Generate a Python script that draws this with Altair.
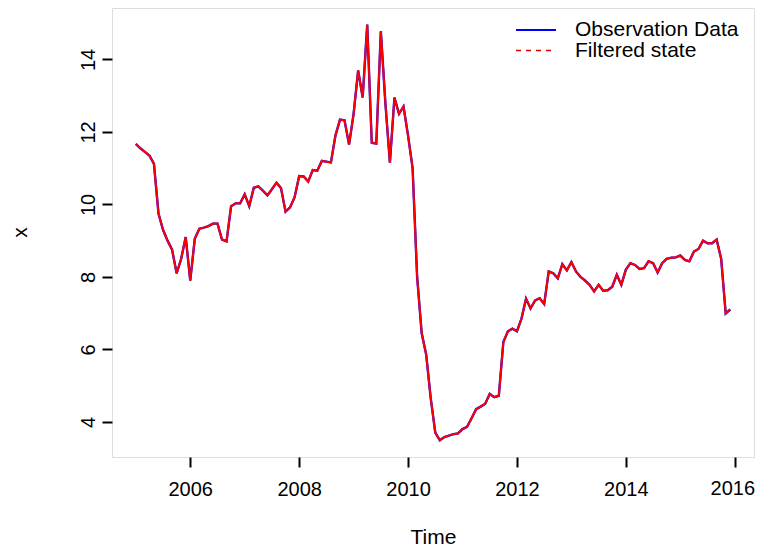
import altair as alt
import pandas as pd

start_year = 2005
observation = [
    11.67, 11.55, 11.45, 11.35, 11.12, 9.75, 9.30, 9.00, 8.75, 8.10, 8.50, 9.10,
    7.90, 9.05, 9.33, 9.36, 9.40, 9.47, 9.47, 9.03, 8.98, 9.95, 10.03, 10.03,
    10.28, 9.95, 10.46, 10.50, 10.38, 10.25, 10.42, 10.60, 10.45, 9.80, 9.92, 10.20,
    10.78, 10.77, 10.63, 10.95, 10.93, 11.20, 11.18, 11.16, 11.90, 12.34, 12.32, 11.65,
    12.50, 13.70, 12.95, 14.96, 11.70, 11.68, 14.78, 12.80, 11.15, 12.95, 12.50, 12.70,
    11.90, 11.00, 8.00, 6.45, 5.85, 4.65, 3.70, 3.49, 3.58, 3.62, 3.66, 3.68,
    3.80, 3.86, 4.10, 4.35, 4.42, 4.50, 4.77, 4.68, 4.72, 6.20, 6.50, 6.57,
    6.50, 6.85, 7.40, 7.13, 7.35, 7.41, 7.25, 8.15, 8.10, 7.96, 8.35, 8.18,
    8.41, 8.15, 8.00, 7.90, 7.78, 7.60, 7.78, 7.62, 7.63, 7.73, 8.06, 7.78,
    8.20, 8.38, 8.33, 8.22, 8.24, 8.43, 8.38, 8.12, 8.38, 8.50, 8.53, 8.54,
    8.59, 8.47, 8.43, 8.70, 8.77, 9.00, 8.93, 8.93, 9.03, 8.50, 6.99, 7.10,
]
filtered = list(observation)
x_ticks = [2006, 2008, 2010, 2012, 2014, 2016]
y_ticks = [4, 6, 8, 10, 12, 14]
legend_labels = ["Observation Data", "Filtered state"]

time = [start_year + i / 12 for i in range(len(observation))]
df = pd.DataFrame({"t": time, "obs": observation, "filt": filtered})

FONT = "Liberation Sans"
FS = 21
TFS = 20
xscale = alt.Scale(domain=[2004.563, 2016.353], nice=False, zero=False)
yscale = alt.Scale(domain=[3.03, 15.42], nice=False, zero=False)

xaxis = alt.Axis(values=x_ticks, format="d", title="Time", grid=False, domain=False,
                 tickSize=10, tickWidth=2, tickColor="black",
                 labelExpr="datum.value == 2016 ? '' : datum.label",
                 labelFontSize=TFS, labelFont=FONT, labelColor="black", labelPadding=12,
                 titleFontSize=FS, titleFont=FONT, titleFontWeight="normal", titleColor="black",
                 titleY=80, titleBaseline="middle")
yaxis = alt.Axis(values=y_ticks, title="x", grid=False, domain=False,
                 tickSize=10, tickWidth=2, tickColor="black",
                 labelFontSize=TFS, labelFont=FONT, labelColor="black", labelAngle=270,
                 labelAlign="center", labelBaseline="bottom", labelPadding=4,
                 titleFontSize=FS, titleFont=FONT, titleFontWeight="normal", titleColor="black",
                 titleAngle=270, titleX=-92, titleY=224, titleBaseline="middle", titleAlign="center")

base = alt.Chart(df)
obs_line = base.mark_line(color="#0000FF", strokeWidth=2.4).encode(
    x=alt.X("t:Q", scale=xscale, axis=xaxis),
    y=alt.Y("obs:Q", scale=yscale, axis=yaxis),
)
filt_line = base.mark_line(color="#FF0000", strokeWidth=2).encode(
    x=alt.X("t:Q", scale=xscale),
    y=alt.Y("filt:Q", scale=yscale),
)

# last x tick label, nudged left so that it stays inside the page
last_df = pd.DataFrame({"yr": [x_ticks[-1]], "lab": [str(x_ticks[-1])]})
last_label = alt.Chart(last_df).mark_text(
    align="center", baseline="top", font=FONT, fontSize=TFS, color="black", dx=-2
).encode(x=alt.X("yr:Q", scale=xscale), y=alt.value(471), text="lab:N")

leg_df = pd.DataFrame({"label": legend_labels})
leg_text1 = alt.Chart(leg_df).transform_filter(alt.datum.label == legend_labels[0]).mark_text(
    align="left", baseline="middle", font=FONT, fontSize=FS, color="black"
).encode(x=alt.value(463), y=alt.value(22), text="label:N")
leg_text2 = alt.Chart(leg_df).transform_filter(alt.datum.label == legend_labels[1]).mark_text(
    align="left", baseline="middle", font=FONT, fontSize=FS, color="black"
).encode(x=alt.value(463), y=alt.value(43), text="label:N")
leg_line1 = alt.Chart(leg_df).transform_filter(alt.datum.label == legend_labels[0]).mark_rule(
    color="#0000FF", strokeWidth=2
).encode(x=alt.value(404), x2=alt.value(444), y=alt.value(22))
leg_line2 = alt.Chart(leg_df).transform_filter(alt.datum.label == legend_labels[1]).mark_rule(
    color="#E00000", strokeWidth=1.5, strokeDash=[5, 5]
).encode(x=alt.value(404), x2=alt.value(444), y=alt.value(42.5))

chart = alt.layer(obs_line, filt_line, last_label, leg_line1, leg_line2, leg_text1, leg_text2).properties(
    width=642, height=449,
    autosize=alt.AutoSizeParams(type="none"),
    padding={"left": 104, "top": 0, "right": 2, "bottom": 90},
).configure_view(stroke="black", strokeWidth=2).configure(background="white")

chart.save("out.html", embed_options={"renderer": "svg", "actions": False})
